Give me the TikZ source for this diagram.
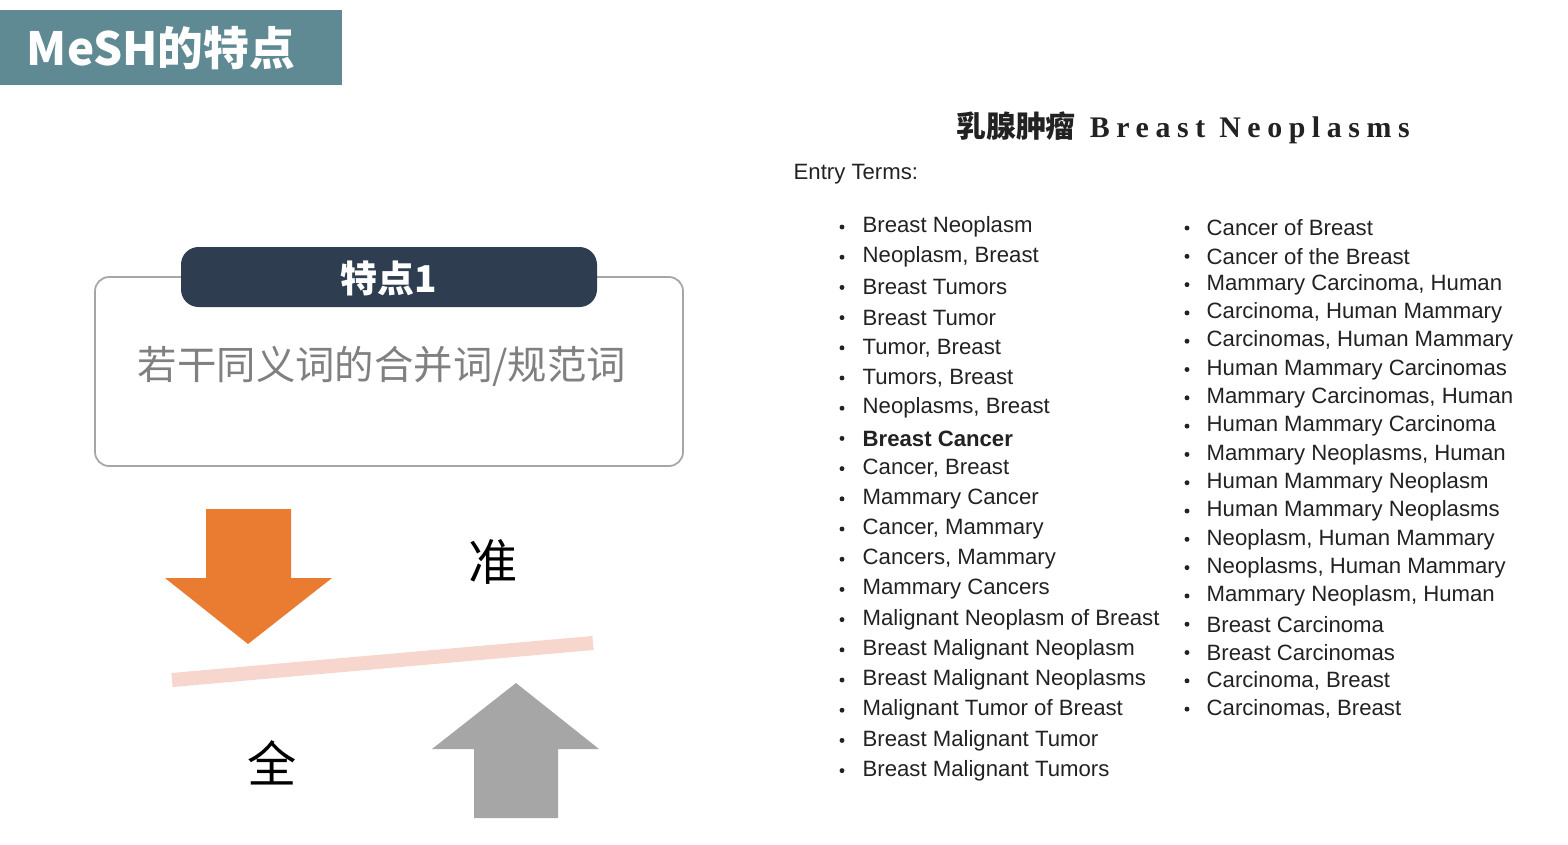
\documentclass[tikz,border=0pt]{standalone}
\usepackage{fontspec}
\setmainfont{Liberation Sans}
\newfontfamily\cjk{Noto Sans CJK SC}
\newfontfamily\serifsp[LetterSpace=22]{Liberation Serif}
\definecolor{teal}{HTML}{5F8A94}
\definecolor{navy}{HTML}{2E3E50}
\definecolor{orng}{HTML}{E97C30}
\definecolor{gry}{HTML}{A6A6A6}
\definecolor{pink}{HTML}{F6D6CD}
\definecolor{txt}{HTML}{222222}
\tikzset{term/.style={anchor=west,inner sep=0pt,font=\fontsize{6.3pt}{7pt}\selectfont,text=txt},
bul/.style={circle,fill=txt,inner sep=0pt,minimum size=1.4pt}}
\begin{document}
\begin{tikzpicture}[x=0.01cm,y=-0.01cm]
\useasboundingbox (0,0) rectangle (1568,844);
\fill[white] (0,0) rectangle (1568,844);
\fill[teal] (0,10) rectangle (342,85);
\node[text=white,font=\cjk\bfseries\fontsize{13pt}{15pt}\selectfont] (title) at (161,48) {MeSH的特点};
\draw[gray!70,line width=0.5pt,rounded corners=4] (95,277) rectangle (683,466);
\fill[navy,rounded corners=5] (181,247) rectangle (597,307);
\node[text=white,font=\cjk\bfseries\fontsize{10.5pt}{12pt}\selectfont] (h1) at (389,278) {特点1};
\node[text=gray,font=\cjk\fontsize{11.2pt}{13pt}\selectfont] (b1) at (382,366) {若干同义词的合并词/规范词};
\fill[orng] (206,509) -- (291,509) -- (291,578) -- (332,578) -- (248,644) -- (165,578) -- (206,578) -- cycle;
\fill[gry] (474,818) -- (558,818) -- (558,749) -- (599,749) -- (516,683) -- (432,749) -- (474,749) -- cycle;
\draw[pink,line width=4pt] (172,680) -- (593,643);
\node[font=\cjk\fontsize{14pt}{16pt}\selectfont] (zhun) at (493,562) {准};
\node[font=\cjk\fontsize{14pt}{16pt}\selectfont] (quan) at (272,763) {全};
\node[font=\fontsize{8.5pt}{10pt}\selectfont,text=txt] (rt) at (1183,128) {{\cjk\bfseries 乳腺肿瘤}\hspace{4pt}{\serifsp\bfseries Breast Neoplasms}};
\node[anchor=west,inner sep=0pt,font=\fontsize{6.3pt}{7pt}\selectfont,text=txt] (et) at (793,174) {Entry Terms:};
\foreach \t [count=\i from 0] in {{Breast Neoplasm},{Neoplasm, Breast},{Breast Tumors},{Breast Tumor},{Tumor, Breast},{Tumors, Breast},{Neoplasms, Breast},{\textbf{Breast Cancer}},{Cancer, Breast},{Mammary Cancer},{Cancer, Mammary},{Cancers, Mammary},{Mammary Cancers},{Malignant Neoplasm of Breast},{Breast Malignant Neoplasm},{Breast Malignant Neoplasms},{Malignant Tumor of Breast},{Breast Malignant Tumor},{Breast Malignant Tumors}}{
  \node[bul] (lb\i) at (842,{227+30.2*\i}) {};
  \node[term] (lt\i) at (862,{227+30.2*\i}) {\t};
}
\foreach \t [count=\i from 0] in {{Cancer of Breast},{Cancer of the Breast},{Mammary Carcinoma, Human},{Carcinoma, Human Mammary},{Carcinomas, Human Mammary},{Human Mammary Carcinomas},{Mammary Carcinomas, Human},{Human Mammary Carcinoma},{Mammary Neoplasms, Human},{Human Mammary Neoplasm},{Human Mammary Neoplasms},{Neoplasm, Human Mammary},{Neoplasms, Human Mammary},{Mammary Neoplasm, Human},{Breast Carcinoma},{Breast Carcinomas},{Carcinoma, Breast},{Carcinomas, Breast}}{
  \node[bul] (rb\i) at (1187,{228+28.3*\i}) {};
  \node[term] (rt\i) at (1206,{228+28.3*\i}) {\t};
}
\end{tikzpicture}
\end{document}
